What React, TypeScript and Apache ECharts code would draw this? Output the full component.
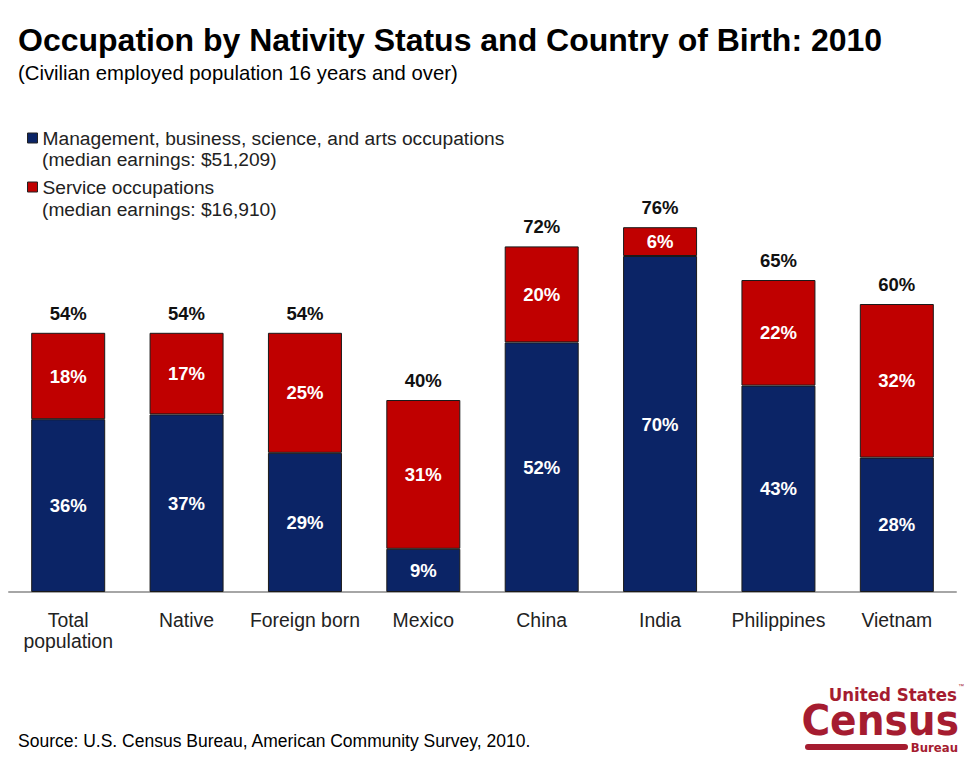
import React, { useEffect, useRef } from "react";
import * as echarts from "echarts";

const categories = ["Total\npopulation", "Native", "Foreign born", "Mexico", "China", "India", "Philippines", "Vietnam"];
const management = [36, 37, 29, 9, 52, 70, 43, 28];
const service = [18, 17, 25, 31, 20, 6, 22, 32];
const totals = [54, 54, 54, 40, 72, 76, 65, 60];
const seriesNames = ["Management, business, science, and arts occupations", "Service occupations"];
const legendNotes = ["(median earnings: $51,209)", "(median earnings: $16,910)"];

const FONT = "'Liberation Sans', Arial, sans-serif";
const NARROW = "'Liberation Sans Narrow', 'DejaVu Sans Condensed', 'Liberation Sans', sans-serif";
const BLUE = "#0b2466";
const RED = "#c00000";
const LOGO = "#a51c30";

export default function App() {
  const ref = useRef<HTMLDivElement>(null);
  useEffect(() => {
    if (!ref.current) return;
    const chart = echarts.init(ref.current, null, { renderer: "svg" });
    const segLabel = {
      show: true,
      position: "inside",
      color: "#ffffff",
      fontWeight: "bold",
      fontSize: 18.5,
      fontFamily: FONT,
      formatter: (p: any) => `${p.value}%`,
    };
    chart.setOption({
      animation: false,
      backgroundColor: "#ffffff",
      textStyle: { fontFamily: FONT },
      title: {
        text: "Occupation by Nativity Status and Country of Birth: 2010",
        subtext: "(Civilian employed population 16 years and over)",
        left: 13,
        top: 19,
        itemGap: 7,
        textStyle: { fontSize: 32, fontWeight: "bold", color: "#000", fontFamily: FONT },
        subtextStyle: { fontSize: 20.3, color: "#000", fontFamily: FONT },
      },
      legend: {
        orient: "vertical",
        left: 22,
        top: 123,
        icon: "rect",
        itemWidth: 10,
        itemHeight: 10,
        itemGap: 29,
        selectedMode: false,
        data: seriesNames,
        textStyle: { fontSize: 19.2, color: "#222", fontFamily: FONT, lineHeight: 20, padding: [0, 0, 0, 0] },
        itemStyle: { borderColor: "#222", borderWidth: 1 },
      },
      grid: { left: 9, width: 947, top: 112, height: 480, containLabel: false },
      xAxis: {
        type: "category",
        data: categories,
        axisLine: { show: true, lineStyle: { color: "#a6a6a6", width: 2 } },
        axisTick: { show: false },
        axisLabel: { color: "#222", fontSize: 19.4, lineHeight: 21, margin: 17, fontFamily: FONT, interval: 0 },
      },
      yAxis: { type: "value", min: 0, max: 100, show: false },
      series: [
        {
          name: seriesNames[0],
          type: "bar",
          stack: "total",
          barWidth: 74,
          data: management,
          itemStyle: { color: BLUE, borderColor: "#1a1a1a", borderWidth: 1 },
          label: segLabel,
        },
        {
          name: seriesNames[1],
          type: "bar",
          stack: "total",
          barWidth: 74,
          data: service,
          itemStyle: { color: RED, borderColor: "#1a1a1a", borderWidth: 1 },
          label: segLabel,
        },
        {
          name: "Total",
          type: "bar",
          stack: "total",
          barWidth: 74,
          data: totals.map(() => 0),
          silent: true,
          itemStyle: { color: "rgba(0,0,0,0)", borderWidth: 0 },
          label: {
            show: true,
            position: "top",
            distance: 10,
            color: "#111",
            fontWeight: "bold",
            fontSize: 18.5,
            fontFamily: FONT,
            formatter: (p: any) => `${totals[p.dataIndex]}%`,
          },
        },
      ],
      graphic: [
        { type: "text", x: 42, y: 159, style: { text: legendNotes[0], fontSize: 19.2, fill: "#222", fontFamily: FONT, textVerticalAlign: "middle" } },
        { type: "text", x: 42, y: 209, style: { text: legendNotes[1], fontSize: 19.2, fill: "#222", fontFamily: FONT, textVerticalAlign: "middle" } },
        {
          type: "text",
          x: 18,
          y: 741,
          style: { text: "Source: U.S. Census Bureau, American Community Survey, 2010.", fontSize: 17.5, fill: "#000", fontFamily: FONT, textVerticalAlign: "middle" },
        },
        {
          type: "text",
          x: 957,
          y: 694,
          style: { text: "United States", fontSize: 18.5, fontWeight: "bold", fill: LOGO, fontFamily: NARROW, textAlign: "right", textVerticalAlign: "middle" },
        },
        { type: "text", x: 958, y: 686, style: { text: "™", fontSize: 6, fill: LOGO, fontFamily: FONT, textVerticalAlign: "middle" } },
        {
          type: "text",
          x: 959,
          y: 720,
          style: { text: "Census", fontSize: 43.5, fontWeight: "bold", fill: LOGO, fontFamily: NARROW, textAlign: "right", textVerticalAlign: "middle" },
        },
        { type: "rect", shape: { x: 805, y: 744, width: 103, height: 6, r: 3 }, style: { fill: LOGO } },
        {
          type: "text",
          x: 958,
          y: 747,
          style: { text: "Bureau", fontSize: 13, fontWeight: "bold", fill: LOGO, fontFamily: NARROW, textAlign: "right", textVerticalAlign: "middle" },
        },
      ],
    });
    return () => chart.dispose();
  }, []);
  return <div ref={ref} style={{ position: "fixed", left: 0, top: 0, width: 980, height: 771 }} />;
}
